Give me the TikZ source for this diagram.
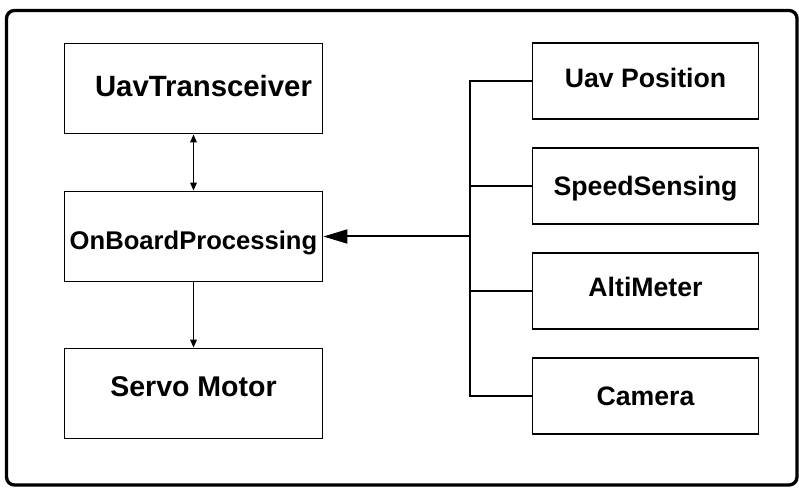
\documentclass[tikz,border=0pt]{standalone}
\usepackage{fontspec}
\setmainfont{Liberation Sans}
\usetikzlibrary{arrows.meta}

\tikzset{
    blk/.style={draw, line width=0.9pt, inner sep=0pt,
        font=\fontsize{20}{24}\selectfont\bfseries},
    lblk/.style={blk, minimum width=194pt, minimum height=68pt},
    rblk/.style={blk, minimum width=169pt, minimum height=57pt},
    link/.style={line width=0.9pt},
    tip/.style={-{Triangle[length=6pt,width=5pt]}}
}

\begin{document}
\begin{tikzpicture}[x=0.75pt,y=-0.75pt]
        \useasboundingbox (0,0) rectangle (799,488);

        % Rahmen
        \draw[line width=2.5pt, rounded corners=6pt] (6.5,10.5) rectangle (797,485);

        % linke Bloecke
        \node[lblk, font=\fontsize{22}{26}\selectfont\bfseries, text depth=4.5pt] (utx) at (193.5,88.5) {\hspace*{15pt}UavTransceiver};
        \node[lblk, font=\fontsize{19.2}{23}\selectfont\bfseries, text height=23pt] (obp) at (193.5,236.5) {OnBoardProcessing};
        \node[lblk, font=\fontsize{21.4}{25}\selectfont\bfseries, text depth=10.5pt] (servo) at (193.5,393.5) {Servo Motor};

        % Sensoren
        \node[rblk, text depth=4.5pt] (pos) at (645.5,81) {Uav Position};
        \node[rblk, text height=18.6pt] (speed) at (645.5,186) {SpeedSensing};
        \node[rblk, text depth=6pt] (alti) at (645.5,291) {AltiMeter};
        \node[rblk] (cam) at (645.5,396) {Camera};

        % Verbindungen
        \draw[link, {Triangle[length=6pt,width=5pt]}-{Triangle[length=6pt,width=5pt]}] (utx) -- (obp);
        \draw[link, tip] (obp) -- (servo);

        \coordinate (bus) at (470,236.5);
        \draw[link] (bus) |- (pos.west);
        \draw[link] (bus) |- (speed.west);
        \draw[link] (bus) |- (alti.west);
        \draw[link] (bus) |- (cam.west);
        \draw[line width=1.5pt, -{Triangle[length=18pt,width=10.5pt]}] (bus) -- (obp.east);
    \end{tikzpicture}
\end{document}
